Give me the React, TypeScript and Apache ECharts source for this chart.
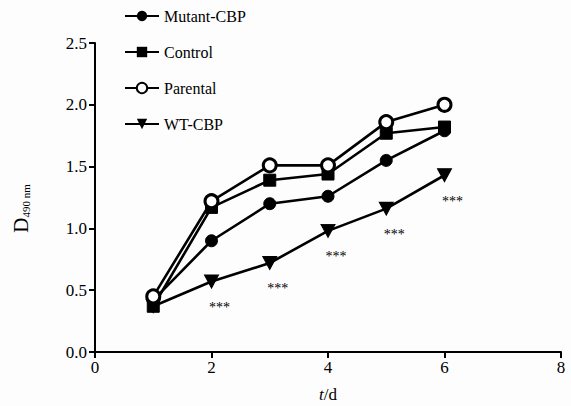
import React, { useEffect, useRef } from "react";
import * as echarts from "echarts";

const days = [1, 2, 3, 4, 5, 6];
const mutantCBP = [0.42, 0.9, 1.2, 1.26, 1.55, 1.79];
const control = [0.37, 1.17, 1.39, 1.44, 1.77, 1.82];
const parental = [0.45, 1.22, 1.51, 1.51, 1.86, 2.0];
const wtCBP = [0.37, 0.57, 0.72, 0.98, 1.16, 1.43];
const wtSignificance = ["", "***", "***", "***", "***", "***"];

const FONT = "Times New Roman";

export default function App() {
  const ref = useRef<HTMLDivElement>(null);
  useEffect(() => {
    if (!ref.current) return;
    const chart = echarts.init(ref.current, undefined, { renderer: "svg" });
    const pairs = (arr: number[]) => days.map((d, i) => [d, arr[i]]);
    const serif = (size: number) => ({ fontFamily: FONT, fontSize: size, color: "#000" });
    const lineCommon = {
      type: "line" as const,
      lineStyle: { color: "#000", width: 2.6 },
      itemStyle: { color: "#000", borderColor: "#000" },
      z: 3,
    };
    chart.setOption({
      animation: false,
      backgroundColor: "#fdfdfd",
      textStyle: { fontFamily: FONT, color: "#000" },
      grid: { left: 95, right: 10, top: 43, bottom: 54, containLabel: false, outerBoundsMode: "none" },
      legend: {
        orient: "vertical",
        left: 119,
        top: 3,
        itemWidth: 34,
        itemHeight: 13,
        itemGap: 20,
        textStyle: { ...serif(16), rich: { l: serif(16) } },
        formatter: (n: string) => `{l|${n}}`,
        data: ["Mutant-CBP", "Control", "Parental", "WT-CBP"],
      },
      xAxis: {
        type: "value",
        min: 0,
        max: 8,
        interval: 2,
        name: "{it|t}{n|/d}",
        nameLocation: "middle",
        nameGap: 34,
        nameTextStyle: {
          ...serif(17),
          rich: { it: { ...serif(17), fontStyle: "italic" }, n: serif(17) },
        },
        axisLine: { lineStyle: { color: "#000", width: 2 } },
        axisTick: { show: true, length: 6, lineStyle: { color: "#000", width: 2 } },
        axisLabel: {
          ...serif(17),
          margin: 7,
          formatter: (v: number) => `{n|${v}}`,
          rich: { n: serif(17) },
        },
        splitLine: { show: false },
      },
      yAxis: {
        type: "value",
        min: 0,
        max: 2.5,
        interval: 0.5,
        name: "{d|D}{sub|490 nm}",
        nameLocation: "middle",
        nameGap: 64,
        nameRotate: 90,
        nameTextStyle: {
          ...serif(17),
          padding: [0, 22, 0, 0],
          rich: {
            d: { ...serif(21), verticalAlign: "bottom", lineHeight: 24 },
            sub: { ...serif(11), verticalAlign: "bottom", lineHeight: 18 },
          },
        },
        axisLine: { show: true, lineStyle: { color: "#000", width: 2 } },
        axisTick: { show: true, length: 6, lineStyle: { color: "#000", width: 2 } },
        axisLabel: {
          ...serif(17),
          margin: 8,
          formatter: (v: number) => `{n|${v.toFixed(1)}}`,
          rich: { n: serif(17) },
        },
        splitLine: { show: false },
      },
      series: [
        {
          ...lineCommon,
          name: "Mutant-CBP",
          symbol: "circle",
          symbolSize: 12,
          data: pairs(mutantCBP),
        },
        {
          ...lineCommon,
          name: "Control",
          symbol: "rect",
          symbolSize: 12,
          data: pairs(control),
        },
        {
          ...lineCommon,
          name: "Parental",
          symbol: "circle",
          symbolSize: 13,
          itemStyle: { color: "#fff", borderColor: "#000", borderWidth: 3 },
          data: pairs(parental),
          z: 4,
        },
        {
          ...lineCommon,
          name: "WT-CBP",
          symbol: "triangle",
          symbolRotate: 180,
          symbolSize: [14, 13],
          data: days.map((d, i) => ({
            value: [d, wtCBP[i]],
            label: {
              show: wtSignificance[i] !== "",
              formatter: `{s|${wtSignificance[i]}}`,
              position: "bottom",
              distance: 12,
              offset: [8, 0],
              ...serif(14),
              rich: { s: serif(14) },
            },
          })),
        },
      ],
    });
    return () => chart.dispose();
  }, []);
  return (
    <div
      ref={ref}
      style={{ position: "fixed", left: 0, top: 0, width: 571, height: 406 }}
    />
  );
}
